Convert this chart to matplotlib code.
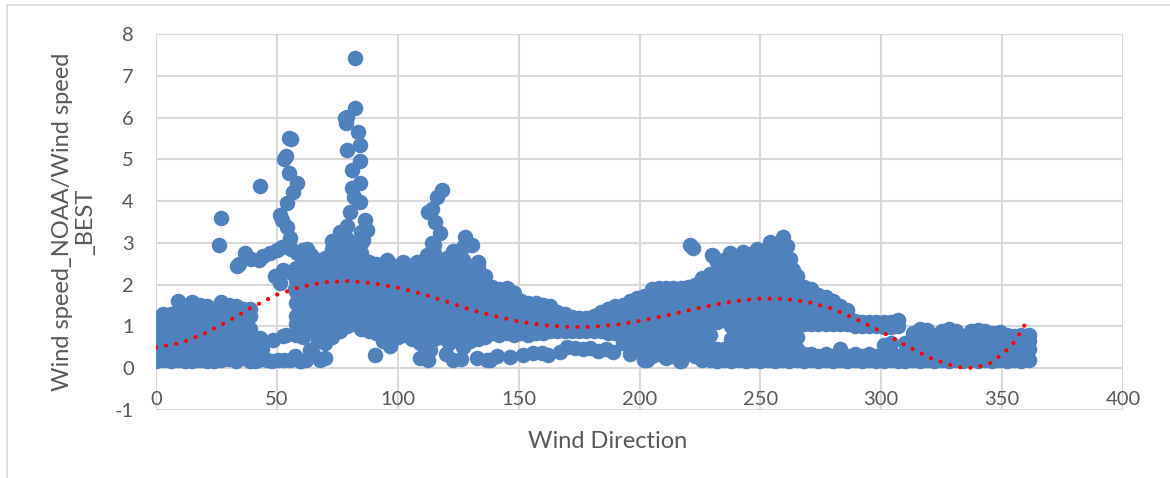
import matplotlib
matplotlib.use("Agg")
import matplotlib.pyplot as plt
from matplotlib.patches import Rectangle
from matplotlib.transforms import offset_copy

plt.rcParams['font.family'] = ['Lato', 'DejaVu Sans']
plt.rcParams['axes.unicode_minus'] = False

# ---------------- data ----------------
# dense column blocks: wind direction of each column and the ratios stacked in it
north_dirs = [0, 3, 6, 9, 12, 15, 18, 21, 24, 27, 30, 33, 36, 39, 41]
north_ratios = [
    [0.18, 0.45, 0.75, 1.0, 1.2],
    [0.2, 0.45, 0.75, 1.05, 1.3],
    [0.17, 0.4, 0.7, 1.0, 1.3],
    [0.2, 0.45, 0.75, 1.05, 1.35, 1.62],
    [0.17, 0.4, 0.7, 1.0, 1.3, 1.45],
    [0.18, 0.45, 0.75, 1.05, 1.35, 1.58],
    [0.2, 0.4, 0.7, 1.0, 1.3, 1.52],
    [0.18, 0.45, 0.75, 1.05, 1.35, 1.48],
    [0.17, 0.4, 0.7, 1.0, 1.3],
    [0.2, 0.45, 0.75, 1.05, 1.35, 1.58],
    [0.22, 0.5, 0.8, 1.1, 1.4, 1.52],
    [0.18, 0.45, 0.75, 1.05, 1.35, 1.48],
    [0.25, 0.55, 0.85, 1.15, 1.42],
    [0.17, 0.35, 0.65, 0.95, 1.25, 1.42],
    [0.17, 0.4, 0.72],
]

mid_dirs = [58, 61, 64, 67, 70, 73, 76, 79, 82, 85, 88, 91, 94, 97, 100, 103,
            106, 109, 112, 115, 118, 121, 124, 127, 130, 133]
mid_ratios = [
    [0.8, 1.05, 1.25, 1.55, 1.85, 2.1, 2.4],
    [0.75, 1.05, 1.3, 1.6, 1.9, 2.2, 2.5, 2.7],
    [0.9, 1.2, 1.45, 1.7, 2.0, 2.3, 2.55, 2.7],
    [0.65, 0.95, 1.25, 1.55, 1.85, 2.15, 2.45, 2.6],
    [0.6, 0.9, 1.2, 1.5, 1.8, 2.1, 2.4, 2.65],
    [0.75, 1.05, 1.35, 1.65, 1.95, 2.25, 2.55, 2.85, 3.05],
    [0.9, 1.2, 1.5, 1.8, 2.1, 2.4, 2.7, 3.0, 3.25],
    [1.0, 1.3, 1.6, 1.9, 2.2, 2.5, 2.8, 3.1, 3.4],
    [1.05, 1.35, 1.65, 1.95, 2.25, 2.55, 2.85, 3.0],
    [0.95, 1.25, 1.55, 1.85, 2.15, 2.45, 2.75, 3.0, 3.25],
    [0.9, 1.2, 1.5, 1.8, 2.1, 2.4, 2.55],
    [0.85, 1.15, 1.45, 1.75, 2.05, 2.35, 2.5],
    [0.65, 0.9, 1.2, 1.5, 1.8, 2.1, 2.4, 2.5],
    [0.55, 0.85, 1.15, 1.45, 1.75, 2.05, 2.35, 2.5],
    [0.75, 1.05, 1.35, 1.65, 1.95, 2.2],
    [0.8, 1.1, 1.4, 1.7, 2.0, 2.3, 2.5],
    [0.7, 1.0, 1.3, 1.6, 1.9, 2.2, 2.45],
    [0.6, 0.9, 1.2, 1.5, 1.8, 2.1, 2.3],
    [0.65, 0.95, 1.25, 1.55, 1.85, 2.15, 2.45, 2.7],
    [0.7, 1.0, 1.3, 1.6, 1.9, 2.2, 2.5, 2.75, 2.95],
    [0.75, 1.05, 1.35, 1.65, 1.95, 2.25, 2.5],
    [0.6, 0.9, 1.2, 1.5, 1.8, 2.1, 2.4, 2.6],
    [0.7, 1.0, 1.3, 1.6, 1.9, 2.2, 2.45, 2.7],
    [0.5, 0.8, 1.1, 1.4, 1.7, 2.0, 2.3, 2.6, 2.9],
    [0.65, 0.95, 1.25, 1.55, 1.85, 2.15, 2.45],
    [0.7, 1.0, 1.3, 1.6, 1.9, 2.2, 2.45],
]

east_dirs = [136, 139, 142, 145, 148, 151, 154, 157, 160, 163, 166, 169, 172,
             175, 178, 181, 184, 187, 190, 193, 196, 199]
east_ratios = [
    [0.75, 1.05, 1.35, 1.65, 1.95, 2.2],
    [0.85, 1.1, 1.4, 1.7, 1.95],
    [0.8, 1.05, 1.35, 1.65, 1.9],
    [0.85, 1.1, 1.4, 1.7, 1.92],
    [0.8, 1.05, 1.35, 1.65, 1.8],
    [0.85, 1.1, 1.4, 1.6],
    [0.8, 1.05, 1.35, 1.55],
    [0.85, 1.1, 1.4, 1.55],
    [0.85, 1.05, 1.35, 1.52],
    [0.9, 1.1, 1.35, 1.5],
    [0.9, 1.15, 1.35],
    [0.9, 1.1, 1.3],
    [0.9, 1.15, 1.22],
    [0.9, 1.1, 1.2],
    [0.9, 1.15, 1.2],
    [0.9, 1.1, 1.25],
    [0.9, 1.15, 1.35],
    [0.85, 1.1, 1.3, 1.42],
    [0.85, 1.1, 1.35, 1.5],
    [0.8, 1.05, 1.3, 1.52],
    [0.75, 1.0, 1.25, 1.5, 1.62],
    [0.7, 0.95, 1.2, 1.45, 1.68],
]

sw_dirs = [202, 205, 208, 211, 214, 217, 220, 223, 226, 229, 232, 235, 238, 241,
           244, 247, 250, 253, 256, 259, 262, 265]
sw_ratios = [
    [0.2, 0.45, 0.7, 0.95, 1.2, 1.45, 1.72],
    [0.3, 0.6, 0.9, 1.2, 1.5, 1.8, 1.9],
    [0.35, 0.65, 0.95, 1.25, 1.55, 1.85, 1.92],
    [0.25, 0.55, 0.85, 1.15, 1.45, 1.75, 1.92],
    [0.3, 0.6, 0.9, 1.2, 1.5, 1.8, 1.92],
    [0.17, 0.45, 0.75, 1.05, 1.35, 1.65, 1.92],
    [0.35, 0.65, 0.95, 1.25, 1.55, 1.85, 1.95],
    [0.3, 0.6, 0.9, 1.2, 1.5, 1.8, 2.0],
    [0.2, 0.5, 0.8, 1.1, 1.4, 1.7, 2.0, 2.15],
    [0.2, 0.5, 0.8, 1.1, 1.4, 1.7, 2.0, 2.25],
    [0.17, 0.45, 1.1, 1.4, 1.7, 2.0, 2.3, 2.55],
    [0.2, 0.45, 1.15, 1.45, 1.75, 2.05, 2.35, 2.6],
    [0.17, 0.4, 0.7, 1.0, 1.3, 1.6, 1.9, 2.2, 2.5, 2.65],
    [0.2, 0.45, 0.75, 1.05, 1.35, 1.65, 1.95, 2.25, 2.55, 2.65],
    [0.17, 0.4, 0.7, 1.0, 1.3, 1.6, 1.9, 2.2, 2.5, 2.7],
    [0.2, 0.45, 0.75, 1.05, 1.35, 1.65, 1.95, 2.25, 2.55, 2.75],
    [0.17, 0.4, 0.7, 1.0, 1.3, 1.6, 1.9, 2.2, 2.5, 2.7],
    [0.2, 0.45, 0.75, 1.05, 1.35, 1.65, 1.95, 2.25, 2.55, 2.85],
    [0.17, 0.4, 0.7, 1.0, 1.3, 1.6, 1.9, 2.2, 2.5, 2.8, 2.95],
    [0.2, 0.45, 0.75, 1.05, 1.35, 1.65, 1.95, 2.25, 2.55, 2.85, 3.05],
    [0.17, 0.4, 0.7, 1.0, 1.3, 1.6, 1.9, 2.2, 2.5, 2.6],
    [0.2, 0.45, 0.75, 1.05, 1.35, 1.65, 1.95, 2.2],
]

west_dirs = [268, 271, 274, 277, 280, 283, 286, 289, 292, 295, 298, 301, 304, 307]
west_ratios = [
    [0.17, 0.35, 1.05, 1.3, 1.55, 1.8, 1.95],
    [0.2, 0.35, 1.05, 1.3, 1.55, 1.8, 1.9],
    [0.17, 0.3, 1.05, 1.3, 1.55, 1.75],
    [0.2, 0.35, 1.05, 1.3, 1.55, 1.7],
    [0.17, 0.3, 1.05, 1.3, 1.5, 1.6],
    [0.2, 0.45, 1.05, 1.3, 1.5],
    [0.17, 0.3, 1.05, 1.3, 1.4],
    [0.2, 0.35, 1.02, 1.12],
    [0.17, 0.3, 1.0, 1.1],
    [0.2, 0.35, 1.0, 1.1],
    [0.17, 0.3, 1.0, 1.1],
    [0.17, 0.35, 0.55, 0.98, 1.1],
    [0.2, 0.4, 0.6, 0.98, 1.1],
    [0.17, 0.3, 1.0, 1.15],
]

nw_dirs = [310, 313, 316, 319, 322, 325, 328, 331, 334, 337, 340, 343, 346,
           349, 352, 355, 358, 361]
nw_ratios = [
    [0.17, 0.35, 0.6],
    [0.2, 0.4, 0.6, 0.85],
    [0.17, 0.35, 0.6, 0.85, 0.95],
    [0.2, 0.4, 0.6, 0.8, 0.92],
    [0.17, 0.35, 0.6, 0.8],
    [0.2, 0.4, 0.6, 0.8, 0.9],
    [0.17, 0.35, 0.6, 0.8, 0.95],
    [0.2, 0.4, 0.6, 0.8, 0.9],
    [0.17, 0.35, 0.6, 0.78],
    [0.2, 0.4, 0.6, 0.8, 0.9],
    [0.17, 0.35, 0.6, 0.8, 0.92],
    [0.2, 0.4, 0.6, 0.8, 0.88],
    [0.17, 0.35, 0.6, 0.85],
    [0.2, 0.4, 0.6, 0.8, 0.86],
    [0.17, 0.35, 0.6, 0.8],
    [0.2, 0.4, 0.6, 0.78],
    [0.17, 0.35, 0.6, 0.8],
    [0.2, 0.45, 0.65, 0.8],
]

# isolated / sparse points (spikes and low outliers)
spike_dirs = [26.2, 26.9, 33.4, 34.5, 36.8, 39.5, 42.5, 44.4, 47.0, 49.9, 52.0,
              49.2, 51.3, 52.7, 51.3, 52.3, 54.1, 55.4, 54.1, 53.0, 53.6, 55.0,
              55.8, 55.2, 58.2, 56.8, 43.0, 56.0, 58.5, 60.9, 62.5, 55.5, 57.5,
              56.8, 58.2,
              78.2, 79.0, 78.5, 78.9, 82.3, 83.7, 84.4, 84.4, 80.9, 84.4, 80.9,
              82.0, 84.4, 80.2, 86.5, 87.2, 85.8, 82.3,
              112.6, 114.0, 116.1, 118.2, 115.4, 117.5, 114.0, 127.8, 130.6,
              125.5, 133.3, 102.3, 107.8, 95.4, 120.5, 123.0,
              222.3, 221.0, 230.5, 229.9, 237.4, 243.0, 248.5, 254.0, 260.9,
              259.5, 262.3, 263.7]
spike_ratios = [2.94, 3.59, 2.44, 2.5, 2.76, 2.62, 2.6, 2.68, 2.75, 2.83, 2.9,
                2.2, 2.04, 2.36, 3.67, 3.55, 3.39, 3.11, 3.95, 5.0, 5.07, 5.52,
                5.48, 4.67, 4.43, 4.23, 4.35, 2.85, 2.75, 2.83, 2.85, 2.3, 1.9,
                2.28, 1.8,
                5.98, 6.02, 5.88, 5.23, 6.22, 5.66, 5.35, 4.95, 4.75, 4.43, 4.31,
                4.1, 3.99, 3.75, 3.55, 3.31, 3.07, 7.42,
                3.75, 3.8, 4.11, 4.27, 3.5, 3.23, 3.0, 3.15, 2.95,
                2.8, 2.55, 2.55, 2.55, 2.6, 2.65, 2.8,
                2.88, 2.95, 2.68, 2.72, 2.75, 2.78, 2.85, 3.02, 2.92,
                3.15, 2.62, 2.36]

low_dirs = [42.0, 44.0, 43.0, 46.0, 48.5, 48.0, 50.5, 52.7, 53.8, 53.0, 55.5,
            57.5, 59.5, 62.0, 63.7, 65.0, 67.8, 70.0, 60.0,
            90.6, 96.8, 109.2, 112.6, 113.3, 120.0, 123.0, 126.0, 132.7, 136.8,
            138.2, 141.0, 146.4, 152.0, 156.0, 159.6, 162.0,
            167.1, 170.0, 173.3, 176.5, 179.5, 183.0, 186.0, 189.2, 193.3, 196.0,
            199.0, 216.7, 203.0]
low_ratios = [0.2, 0.45, 0.72, 0.2, 0.68, 0.17, 0.2, 0.76, 0.8, 0.2, 0.2,
              0.3, 0.18, 0.2, 0.44, 0.35, 0.2, 0.25, 0.18,
              0.32, 0.52, 0.24, 0.2, 0.44, 0.35, 0.2, 0.22, 0.24, 0.2,
              0.2, 0.3, 0.28, 0.32, 0.36, 0.36, 0.32,
              0.4, 0.5, 0.48, 0.45, 0.48, 0.42, 0.45, 0.4, 0.6, 0.35,
              0.45, 0.17, 0.2]

# polynomial trend line (dotted red) read at these directions
trend_dir = [0, 10, 20, 30, 40, 50, 60, 70, 80, 90, 100, 110, 120, 130, 140, 150,
             160, 170, 180, 190, 200, 210, 220, 230, 240, 250, 260, 270, 280, 290,
             300, 310, 320, 330, 335, 340, 345, 350, 355, 360]
trend_val = [0.5, 0.6, 0.83, 1.13, 1.47, 1.76, 1.95, 2.06, 2.09, 2.03, 1.93, 1.78,
             1.6, 1.4, 1.25, 1.12, 1.03, 0.99, 0.99, 1.04, 1.13, 1.25, 1.38, 1.51,
             1.61, 1.67, 1.66, 1.58, 1.42, 1.16, 0.88, 0.55, 0.25, 0.05, 0.0, 0.03,
             0.12, 0.33, 0.62, 1.1]

x_ticks = [0, 50, 100, 150, 200, 250, 300, 350, 400]
y_ticks = [-1, 0, 1, 2, 3, 4, 5, 6, 7, 8]

# ---------------- assemble points ----------------
xs, ys = [], []
for dirs, cols in [(north_dirs, north_ratios), (mid_dirs, mid_ratios),
                   (east_dirs, east_ratios), (sw_dirs, sw_ratios),
                   (west_dirs, west_ratios), (nw_dirs, nw_ratios)]:
    for d, col in zip(dirs, cols):
        for v in col:
            xs.append(d)
            ys.append(v)
xs += spike_dirs + low_dirs
ys += spike_ratios + low_ratios

# ---------------- figure ----------------
W, H = 1170, 478
fig = plt.figure(figsize=(W / 100, H / 100), dpi=100)
fig.patch.set_facecolor('white')
ax = fig.add_axes([156 / W, 1 - 410 / H, (1123 - 156) / W, (410 - 34) / H])
ax.set_xlim(0, 400)
ax.set_ylim(-1, 8)
ax.set_xticks(x_ticks)
ax.set_yticks(y_ticks)
for s in ax.spines.values():
    s.set_visible(False)
ax.grid(True, color='#D9D9D9', linewidth=1.5)
ax.set_axisbelow(True)
ax.tick_params(axis='both', length=0)
ax.tick_params(axis='x', labelbottom=False)
ax.tick_params(axis='y', pad=16, labelsize=14.5, labelcolor='#595959')

grey = '#595959'
trans = offset_copy(ax.transData, fig=fig, x=0, y=-22.7, units='points')
for t in x_ticks:
    ax.text(t, 0, str(t), transform=trans, ha='center', va='center',
            fontsize=14.5, color=grey)

ax.scatter(xs, ys, s=125, color='#4F81BD', linewidths=0, zorder=2)
ax.plot(trend_dir, trend_val, color='#FF0000', linewidth=3,
        linestyle=(0, (0.01, 2.45)), dash_capstyle='round', zorder=3)

fig.text(607.5 / W, 1 - 441.7 / H, 'Wind Direction', ha='center', va='center',
         fontsize=17, color=grey)
fig.text(74 / W, 1 - 222 / H, 'Wind speed_NOAA/Wind speed\n_BEST', rotation=90,
         ha='center', va='center', multialignment='center', fontsize=17,
         color=grey, linespacing=1.15)

fig.patches.append(Rectangle((7 / W, -0.2), 1.2, 1.2 - 5 / H, transform=fig.transFigure,
                             fill=False, edgecolor='#D9D9D9', linewidth=1.2))

fig.savefig('out.png', dpi=100)
